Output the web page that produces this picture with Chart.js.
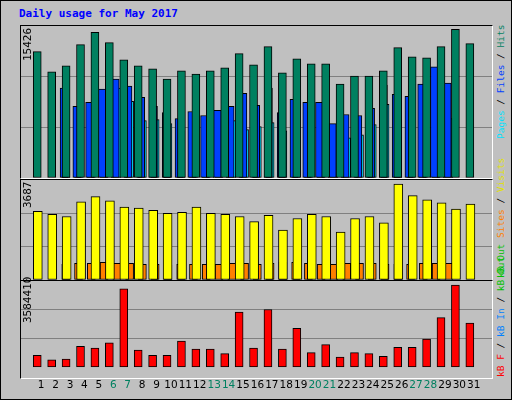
<!DOCTYPE html>
<html><head><meta charset="utf-8">
<script src="https://cdn.jsdelivr.net/npm/chart.js@4"></script>
<style>
body{margin:0;width:512px;height:400px;background:#fff;overflow:hidden}
#wrap{position:absolute;left:0;top:0;width:510px;height:398px;background:#c0c0c0;border:1px solid #000}
.panel{position:absolute;left:19px;width:471px;border-top:1px solid #000;border-left:1px solid #000;border-right:1px solid #fff;border-bottom:1px solid #fff}
canvas{position:absolute;left:0;top:0}
.vt{position:absolute;transform-origin:0 0;transform:rotate(-90deg);white-space:nowrap;font:11px "DejaVu Sans Mono",monospace}
.vr{position:absolute;transform-origin:0 0;transform:rotate(-90deg);white-space:nowrap;font:9.5px "DejaVu Sans Mono",monospace}
#title{position:absolute;left:18px;top:6px;font:bold 11px "DejaVu Sans Mono",monospace;color:#0000ff}
</style></head><body>
<div id="wrap">
<div id="title">Daily usage for May 2017</div>
<div class="panel" style="top:24px;height:152px"><canvas id="c1" width="471" height="152"></canvas></div>
<div class="panel" style="top:178px;height:100px"><canvas id="c2" width="471" height="100"></canvas></div>
<div class="panel" style="top:279px;height:97px"></div>
<div style="position:absolute;left:20px;top:280px;width:471px;height:115px"><canvas id="c3" width="471" height="115"></canvas></div>
<div class="vt" style="left:20px;top:60px;color:#000">15426</div>
<div class="vt" style="left:20px;top:207px;color:#000">3687</div>
<div class="vt" style="left:20px;top:322px;color:#000">3584410</div>
<div class="vr" style="left:494px;top:138px"><span style="color:#00e0ff">Pages</span> / <span style="color:#0040ff">Files</span> / <span style="color:#008060">Hits</span></div>
<div class="vr" style="left:494px;top:277px"><span style="color:#00c000">kB Out</span> <span style="color:#ff8000">Sites</span> / <span style="color:#e0e000">Visits</span></div>
<div class="vr" style="left:494px;top:376px"><span style="color:#ff0000">kB F</span> / <span style="color:#0080ff">kB In</span> / <span style="color:#00c000">kB Out</span></div>
</div>
<script>
const days=Array.from({length:31},(_,i)=>i+1);
const weekend=[6,7,13,14,20,21,27,28];
const hits=[12821,10764,11381,13541,14775,13746,11998,11381,11072,10044,10867,10558,10867,11175,12615,11484,13335,10661,12101,11587,11587,9530,10353,10353,10867,13232,12307,12204,13335,15083,13643];
const files=[9118,7267,7679,9016,10044,9324,8193,7267,6650,6033,6753,6342,6856,7267,8604,7370,9118,6650,7987,7679,7679,5519,6445,6342,7062,9427,8501,8296,9530,11278,9633];
const pages=[7165,5725,6239,7679,9118,7782,5828,5930,5519,4799,4388,4696,5211,5828,4902,5211,5622,4799,4491,5416,5416,3874,4079,4388,5416,7473,5930,5519,5211,4696,6033];
const visits=[2534,2419,2342,2880,3072,2918,2688,2650,2573,2458,2496,2688,2458,2419,2342,2150,2381,1843,2266,2419,2342,1766,2266,2342,2112,3533,3110,2957,2842,2611,2803];
const sites=[576,614,614,653,614,614,576,576,538,576,576,576,576,614,614,576,614,653,653,614,576,576,614,614,614,576,576,576,614,614,614];
const kbytes=[497840,311150,348488,871220,796544,1020572,3260852,721868,497840,497840,1095248,759206,759206,572516,2290064,796544,2402078,759206,1617980,609854,945896,423164,609854,572516,460502,833882,833882,1169924,2066036,3410204,1842008];
const maxTop=15426,maxMid=3687,maxBot=3584410;
const XMIN=0.13,XMAX=31.74;
function ds(vals,off,color,w,ax){return{xAxisID:ax,data:vals.map((v,i)=>({x:i+1+off,y:v})),backgroundColor:color,borderColor:'#000',borderWidth:1,borderSkipped:false,barThickness:w,grouped:false};}
function hx(){return{type:'linear',min:XMIN,max:XMAX,display:false,grid:{display:false}};}
function make(id,datasets,max,showX){
  const scales={
    x:{type:'linear',min:XMIN,max:XMAX,display:showX,grid:{display:false},border:{display:false},
       afterBuildTicks:a=>{a.ticks=days.map(d=>({value:d}));},
       ticks:{autoSkip:false,maxRotation:0,padding:4,font:{family:'DejaVu Sans',size:10.5},
         color:c=>weekend.includes(c.tick.value)?'#008060':'#000',callback:v=>String(v)}},
    y:{min:0,max:max,afterBuildTicks:a=>{a.ticks=[0,max/3,2*max/3,max].map(v=>({value:v}));},
       ticks:{display:false},border:{display:false},
       grid:{color:c=>(c.index==1||c.index==2)?'#808080':'rgba(0,0,0,0)',drawTicks:false,lineWidth:1}}};
  scales.x2=hx();scales.x3=hx();
  return new Chart(document.getElementById(id),{type:'bar',data:{datasets},
  options:{responsive:false,animation:false,events:[],layout:{padding:0},
   plugins:{legend:{display:false},tooltip:{enabled:false}},scales}});
}
make('c1',[ds(hits,-0.27,'#008060',8,'x'),ds(files,-0.13,'#0040ff',8,'x2'),ds(pages,0,'#00e0ff',8,'x3')],maxTop,false);
make('c2',[ds(visits,-0.23,'#ffff00',9,'x'),ds(sites,0,'#ff8000',8,'x2')],maxMid,false);
make('c3',[ds(kbytes,-0.27,'#ff0000',8,'x')],maxBot,true);
</script>
</body></html>
